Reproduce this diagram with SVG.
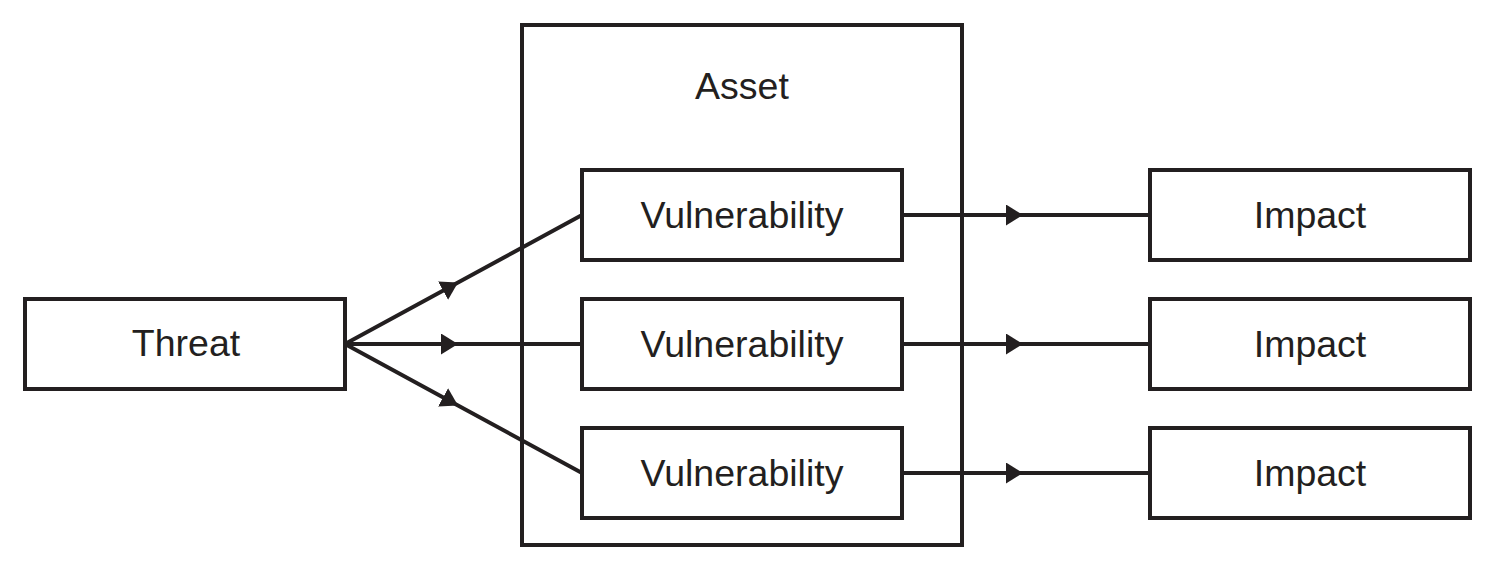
<svg xmlns="http://www.w3.org/2000/svg" width="1494" height="571" viewBox="0 0 1494 571">
<style>
.box{fill:#fff;stroke:#231f20;stroke-width:4}
.lbl{font-family:"Liberation Sans",Arial,sans-serif;font-size:37.5px;fill:#231f20;text-anchor:middle}
.conn{fill:none;stroke:#231f20;stroke-width:4;marker-mid:url(#arr)}
</style>
<defs>
<marker id="arr" markerUnits="userSpaceOnUse" markerWidth="17" markerHeight="21" refX="17" refY="10.5" orient="auto" viewBox="0 0 17 21">
<path d="M0,0 L17,10.5 L0,21 Z" fill="#231f20"/>
</marker>
</defs>
<rect width="1494" height="571" fill="#fff"/>
<g id="asset">
<rect class="box" x="522" y="25" width="440" height="520"/>
<text class="lbl" x="742" y="99">Asset</text>
</g>
<g id="connectors">
<path class="conn" d="M345 344 L458 282.5 L582 215"/>
<path class="conn" d="M345 344 L458 344 L582 344"/>
<path class="conn" d="M345 344 L458 405.5 L582 473"/>
<path class="conn" d="M902 215 L1023 215 L1150 215"/>
<path class="conn" d="M902 344 L1023 344 L1150 344"/>
<path class="conn" d="M902 473 L1023 473 L1150 473"/>
</g>
<g id="threat">
<rect class="box" x="25" y="299" width="320" height="90"/>
<text class="lbl" x="186" y="356">Threat</text>
</g>
<g id="vuln1">
<rect class="box" x="582" y="170" width="320" height="90"/>
<text class="lbl" x="742" y="228">Vulnerability</text>
</g>
<g id="vuln2">
<rect class="box" x="582" y="299" width="320" height="90"/>
<text class="lbl" x="742" y="357">Vulnerability</text>
</g>
<g id="vuln3">
<rect class="box" x="582" y="428" width="320" height="90"/>
<text class="lbl" x="742" y="486">Vulnerability</text>
</g>
<g id="impact1">
<rect class="box" x="1150" y="170" width="320" height="90"/>
<text class="lbl" x="1310" y="228">Impact</text>
</g>
<g id="impact2">
<rect class="box" x="1150" y="299" width="320" height="90"/>
<text class="lbl" x="1310" y="357">Impact</text>
</g>
<g id="impact3">
<rect class="box" x="1150" y="428" width="320" height="90"/>
<text class="lbl" x="1310" y="486">Impact</text>
</g>
</svg>
